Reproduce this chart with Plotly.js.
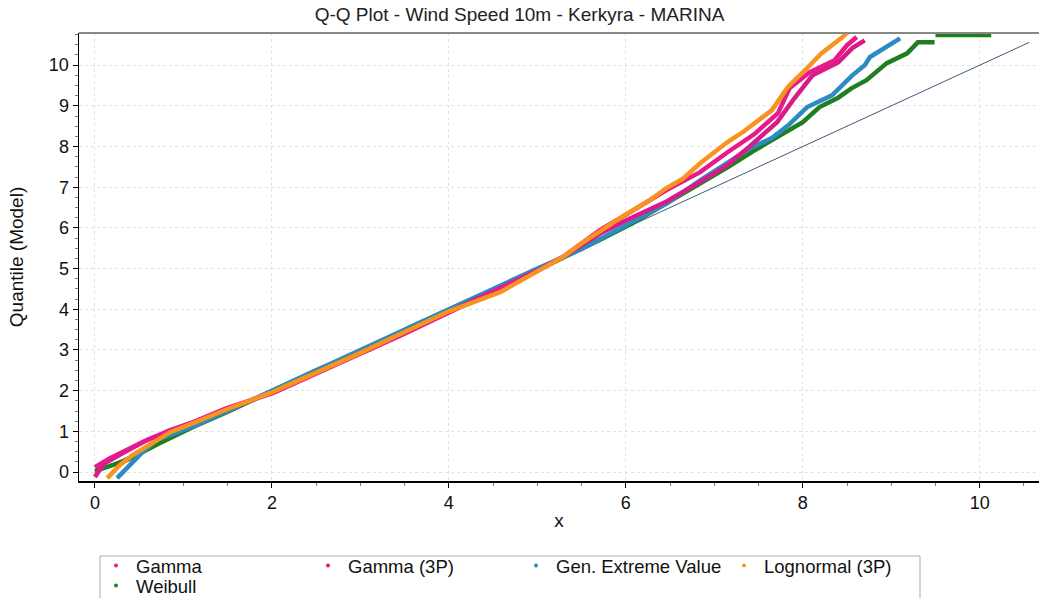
<!DOCTYPE html>
<html>
<head>
<meta charset="utf-8">
<script src="https://cdn.plot.ly/plotly-3.0.1.min.js"></script>
<style>html,body{margin:0;padding:0;background:#fff;}#chart{width:1039px;height:598px;}</style>
</head>
<body>
<div id="chart"></div>
<script>
// Series names
var seriesNames = ["Gamma", "Gamma (3P)", "Gen. Extreme Value", "Lognormal (3P)", "Weibull"];

// Gamma
var gammaX = [0, 0.17, 0.54, 0.85, 1.11, 1.49, 2.01, 2.5, 3.0, 3.5, 4.0, 4.5, 5.0, 5.3, 5.5, 5.71, 6.0, 6.46, 6.84, 7.15, 7.45, 7.72, 7.85, 8.08, 8.36, 8.50, 8.61];
var gammaY = [0.12, 0.34, 0.74, 1.03, 1.23, 1.57, 1.94, 2.42, 2.9, 3.4, 3.92, 4.42, 4.94, 5.3, 5.62, 5.95, 6.32, 6.93, 7.37, 7.86, 8.3, 8.82, 9.43, 9.83, 10.12, 10.49, 10.69];

// Gamma (3P)
var gamma3pX = [0, 0.1, 0.3, 0.6, 1.0, 1.5, 2.0, 2.5, 3.0, 3.5, 4.0, 4.5, 5.0, 5.3, 5.7, 6.0, 6.46, 6.84, 7.15, 7.4, 7.71, 7.89, 8.11, 8.40, 8.56, 8.70];
var gamma3pY = [-0.12, 0.2, 0.45, 0.8, 1.12, 1.55, 1.95, 2.43, 2.92, 3.42, 3.93, 4.43, 4.95, 5.3, 5.85, 6.18, 6.65, 7.13, 7.55, 8.0, 8.6, 9.14, 9.75, 10.07, 10.42, 10.61];

// Gen. Extreme Value
var gevX = [0.25, 0.40, 0.53, 0.70, 0.85, 1.11, 1.5, 2.0, 2.5, 3.0, 3.5, 4.0, 4.5, 5.0, 5.5, 6.0, 6.46, 6.84, 7.15, 7.4, 7.65, 7.85, 8.05, 8.33, 8.56, 8.70, 8.76, 8.95, 9.10];
var gevY = [-0.15, 0.17, 0.47, 0.79, 0.91, 1.12, 1.5, 2.0, 2.52, 3.02, 3.52, 4.02, 4.5, 5.0, 5.48, 6.05, 6.6, 7.17, 7.62, 7.95, 8.21, 8.55, 8.97, 9.26, 9.75, 10.0, 10.2, 10.44, 10.66];

// Lognormal (3P)
var lognX = [0.14, 0.28, 0.43, 0.66, 0.85, 1.11, 1.5, 2.0, 2.5, 3.0, 3.5, 4.0, 4.58, 5.0, 5.3, 5.5, 5.71, 6.0, 6.27, 6.46, 6.64, 6.84, 7.15, 7.32, 7.65, 7.83, 8.05, 8.21, 8.45, 8.6];
var lognY = [-0.15, 0.17, 0.42, 0.74, 0.98, 1.2, 1.55, 1.96, 2.43, 2.93, 3.44, 3.95, 4.42, 4.95, 5.3, 5.62, 5.93, 6.33, 6.68, 6.98, 7.2, 7.59, 8.11, 8.35, 8.89, 9.46, 9.93, 10.29, 10.69, 11.0];

// Weibull (null = gap between the last two runs of points)
var weibullX = [0, 0.1, 0.36, 0.73, 1.11, 1.49, 2.0, 2.5, 3.11, 3.56, 4.24, 4.58, 5.12, 5.33, 5.7, 6.08, 6.46, 6.84, 7.15, 7.45, 7.74, 8.0, 8.19, 8.4, 8.55, 8.72, 8.95, 9.18, 9.30, 9.49, null, 9.5, 10.13];
var weibullY = [0.02, 0.1, 0.29, 0.71, 1.11, 1.47, 1.99, 2.5, 3.02, 3.56, 4.23, 4.55, 5.09, 5.3, 5.7, 6.12, 6.6, 7.1, 7.49, 7.9, 8.28, 8.6, 8.97, 9.2, 9.43, 9.63, 10.05, 10.29, 10.56, 10.56, null, 10.74, 10.74];

// Reference line y = x
var refX = [0, 10.56];
var refY = [0, 10.56];

var colors = ["#e8198b", "#d81b87", "#2b8cc4", "#f7931e", "#1f7f1f"];
var xs = [gammaX, gamma3pX, gevX, lognX, weibullX];
var ys = [gammaY, gamma3pY, gevY, lognY, weibullY];
var drawOrder = [4, 2, 1, 0, 3];

var font = "Liberation Sans, Arial, sans-serif";
var traces = [];
traces.push({x: refX, y: refY, mode: "lines", line: {color: "#3c5a78", width: 1}, showlegend: false, hoverinfo: "skip"});
drawOrder.forEach(function (i) {
  traces.push({x: xs[i], y: ys[i], mode: "lines", line: {color: colors[i], width: 4.5}, showlegend: false, name: seriesNames[i], connectgaps: false});
});
var legendIds = ["legend", "legend2", "legend3", "legend4", "legend5"];
for (var i = 0; i < 5; i++) {
  traces.push({x: [null], y: [null], mode: "markers", marker: {color: colors[i], size: 4}, name: seriesNames[i], legend: legendIds[i], showlegend: true});
}

function mkLegend(xpx, ypx) {
  return {x: (xpx - 79) / 960, xanchor: "left", y: (481 - ypx) / 448, yanchor: "middle",
          orientation: "h", bgcolor: "rgba(0,0,0,0)", borderwidth: 0, itemwidth: 30,
          font: {family: font, size: 18.5, color: "#111"}};
}

var layout = {
  width: 1039, height: 598,
  margin: {l: 79, r: 0, t: 33, b: 117, pad: 0, autoexpand: false},
  paper_bgcolor: "#fff", plot_bgcolor: "#fff",
  title: {text: "Q-Q Plot - Wind Speed 10m - Kerkyra - MARINA", x: 0.5, xref: "container", y: 1 - 14 / 598, yanchor: "middle",
          font: {family: font, size: 19, color: "#222"}},
  xaxis: {range: [-0.18, 10.67], dtick: 2, tick0: 0, ticks: "outside", ticklen: 5, tickcolor: "#000",
          showline: true, linecolor: "#000", linewidth: 1.5, zeroline: false,
          showgrid: true, gridcolor: "#e2e2e2", griddash: "dot",
          minor: {dtick: 0.5, ticks: "outside", ticklen: 3, tickcolor: "#777", showgrid: false},
          tickfont: {family: font, size: 18, color: "#111"},
          title: {text: "x", font: {family: font, size: 19, color: "#111"}, standoff: 1}},
  yaxis: {range: [-0.22, 10.79], dtick: 1, tick0: 0, ticks: "outside", ticklen: 5, tickcolor: "#000",
          showline: true, linecolor: "#000", linewidth: 1.5, zeroline: false,
          showgrid: true, gridcolor: "#e2e2e2", griddash: "dot",
          minor: {dtick: 0.25, ticks: "outside", ticklen: 3, tickcolor: "#777", showgrid: false},
          tickfont: {family: font, size: 18, color: "#111"},
          title: {text: "Quantile (Model)", font: {family: font, size: 19, color: "#111"}, standoff: 20}},
  shapes: [
    {type: "line", xref: "paper", yref: "paper", x0: 0, x1: 1, y0: 1, y1: 1, line: {color: "#888", width: 2}},
    {type: "rect", xref: "paper", yref: "paper", x0: (100 - 79) / 960, x1: (920 - 79) / 960, y0: (481 - 556) / 448, y1: (481 - 605) / 448,
     line: {color: "#aaa", width: 1}, fillcolor: "rgba(0,0,0,0)"}
  ],
  legend: mkLegend(96, 566),
  legend2: mkLegend(308, 566),
  legend3: mkLegend(516, 566),
  legend4: mkLegend(724, 566),
  legend5: mkLegend(96, 586),
  showlegend: true
};

Plotly.newPlot("chart", traces, layout, {displayModeBar: false, staticPlot: true});
</script>
</body>
</html>
